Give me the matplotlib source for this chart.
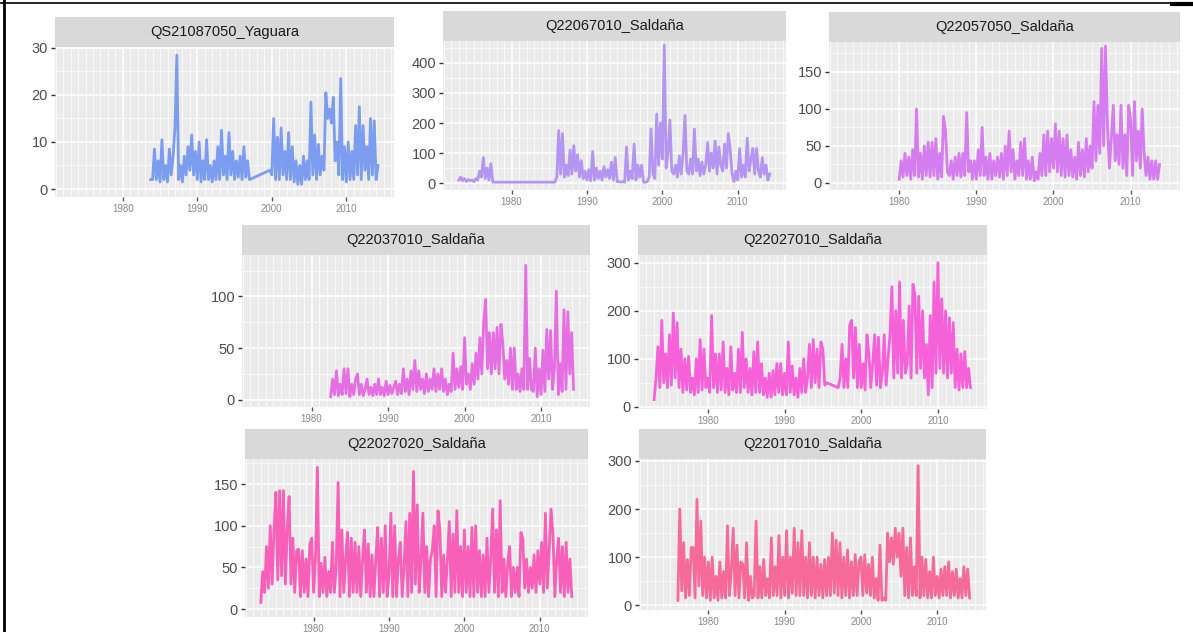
import numpy as np
import matplotlib.pyplot as plt
from matplotlib.lines import Line2D

plt.rcParams['font.family'] = ['Liberation Sans', 'DejaVu Sans']

W, H = 1193, 632

titles = ["QS21087050_Yaguara", "Q22067010_Saldaña", "Q22057050_Saldaña",
          "Q22037010_Saldaña", "Q22027010_Saldaña", "Q22027020_Saldaña",
          "Q22017010_Saldaña"]
colors = ["#7C9CF0", "#B495F2", "#D47CF0", "#E66EE3", "#F660D8", "#F75FB8", "#F56A98"]
x_ticks = [1980, 1990, 2000, 2010]
y_ticks = [[0, 10, 20, 30], [0, 100, 200, 300, 400], [0, 50, 100, 150],
           [0, 50, 100], [0, 100, 200, 300], [0, 50, 100, 150], [0, 100, 200, 300]]

# caudal, un valor cada trimestre: (anio inicial, valores)
q_yaguara = [
    (1983.75, [2,
               2, 8.5, 2, 6, 1.5, 10.5, 2, 5, 1.5, 8.5, 3, 7, 13, 28.5, 2, 5,
               1.5, 7, 3, 9, 4, 11.5, 3, 8, 2, 10, 1.5, 6, 2, 10.5, 2, 5,
               1.5, 6, 2, 9, 2, 12.5, 3, 7, 2, 12, 3, 8, 2, 6, 2.5, 7,
               2, 9, 2.5, 6, 2]),
    (1999.75, [4,
               3, 15, 2, 11, 2, 13, 3, 8, 2, 12, 2, 9, 1.5, 6, 1, 5,
               1, 7, 2, 6, 2, 18.5, 3, 11.5, 2, 9.5, 3, 7, 4, 20.5, 15, 17,
               14, 19.5, 6, 10, 3, 23.5, 2, 9, 1.5, 10, 2, 8, 2, 13.5, 3, 17.5,
               2, 13.5, 4, 9, 2, 15, 3, 14.5, 2, 5]),
]
q_22067010 = [
    (1973.0, [10, 20, 8, 15, 5, 12, 8, 10, 5, 15, 10, 40, 20, 85, 15, 50,
              10, 65, 3]),
    (1985.75, [3,
               20, 175, 30, 165, 20, 60, 25, 110, 30, 125, 40, 95, 20, 75, 15, 40,
               10, 45, 8, 105, 10, 50, 15, 40, 10, 55, 20, 45, 15, 70, 10, 85,
               5, 5, 3, 5, 3, 120, 10, 40, 15, 130, 10, 60, 20, 60, 3, 3,
               5, 20, 180, 30, 15, 230, 60, 200, 80, 460, 50, 100, 210, 40, 30, 60,
               20, 90, 30, 100, 225, 40, 30, 80, 30, 180, 40, 80, 25, 70, 30, 60,
               135, 40, 100, 50, 140, 30, 120, 60, 40, 130, 50, 165, 110, 30, 5, 40,
               10, 115, 20, 60, 20, 150, 40, 80, 115, 30, 115, 40, 20, 85, 30, 60,
               10, 30]),
]
q_22057050 = [
    (1980.0, [5, 30, 8, 40, 10, 35, 5, 45, 10, 100, 8, 40, 5, 50, 10, 55,
              8, 55, 10, 60, 5, 40, 8, 90, 70, 15, 10, 30, 5, 35, 10, 40,
              8, 40, 10, 95, 15, 30, 5, 30, 5, 45, 10, 75, 10, 35, 5, 40,
              5, 30, 10, 35, 8, 40, 5, 50, 10, 70, 15, 45, 5, 30, 10, 55,
              10, 60, 5, 30, 5, 35, 3, 15, 5, 40, 10, 65, 10, 70, 15, 60,
              20, 80, 15, 70, 10, 60, 8, 65, 10, 45, 8, 35, 5, 55, 10, 45,
              8, 60, 15, 50, 20, 110, 30, 105, 40, 182, 50, 185, 75, 20, 60, 105,
              30, 65, 25, 105, 20, 65, 10, 105, 85, 10, 110, 30, 70, 20, 100, 40,
              10, 35, 5, 30, 5, 30, 5, 25]),
]
q_22037010 = [
    (1982.5, [3, 20,
              5, 28, 4, 15, 5, 30, 6, 30, 3, 15, 5, 20, 25, 5, 15, 4,
              10, 20, 5, 12, 4, 15, 5, 20, 5, 12, 4, 18, 5, 14, 6, 12,
              18, 5, 15, 6, 30, 8, 20, 5, 28, 10, 38, 8, 28, 10, 20, 6,
              25, 8, 20, 10, 30, 8, 25, 10, 30, 8, 20, 5, 15, 8, 45, 10,
              30, 12, 32, 10, 60, 15, 25, 10, 35, 15, 45, 20, 60, 25, 75, 97,
              30, 65, 25, 65, 30, 70, 25, 73, 55, 20, 38, 15, 50, 10, 50, 10,
              25, 8, 30, 10, 130, 10, 40, 10, 8, 50, 3, 30, 5, 48, 8, 68,
              20, 67, 10, 30, 105, 5, 35, 8, 87, 10, 85, 25, 65, 10]),
]
q_22027010 = [
    (1973.0, [15, 60, 125, 40, 180, 50, 110, 40, 150, 45, 195, 60, 175, 40, 120, 30,
              100, 35, 105, 30, 60, 25, 100, 30, 140, 35, 120, 40, 60, 30, 190, 40,
              110, 30, 110, 35, 135, 30, 80, 25, 125, 35, 70, 30, 120, 30, 155, 40,
              100, 30, 80, 25, 115, 30, 135, 30, 90, 25, 60, 20, 70, 20, 75, 25,
              90, 30, 90, 25, 70, 25, 135, 30, 85, 25, 60, 20, 80, 30, 100, 30,
              60, 130, 40, 140, 50, 120, 40, 135, 120, 45, 50]),
    (1997.0, [40, 60, 130, 40, 100, 40, 170, 180, 60, 165, 40, 130, 40, 90, 35, 150,
              110, 40, 90, 150, 45, 145, 40, 70, 150, 45, 100, 150, 250, 60, 200, 70,
              260, 60, 180, 70, 90, 210, 60, 255, 235, 70, 230, 80, 200, 60, 130, 25,
              190, 40, 260, 70, 300, 80, 225, 70, 200, 60, 185, 70, 175, 40, 120, 35,
              110, 40, 115, 40, 80, 40]),
]
q_22027020 = [
    (1973.0, [8, 45, 20, 75, 25, 100, 30, 95, 140, 35, 142, 40, 142, 30, 95, 135,
              30, 85, 20, 70, 72, 15, 70, 20, 60, 15, 78, 85, 20, 60, 170, 15,
              55, 20, 62, 15, 45, 20, 80, 20, 50, 152, 15, 95, 20, 60, 92, 15,
              85, 20, 80, 20, 75, 15, 60, 95, 20, 78, 15, 65, 15, 60, 98, 15,
              85, 20, 100, 15, 40, 115, 15, 100, 15, 60, 80, 15, 50, 105, 15, 115,
              20, 165, 30, 125, 20, 60, 115, 20, 75, 15, 60, 70, 100, 15, 118, 95,
              15, 65, 20, 60, 105, 15, 90, 20, 118, 20, 75, 15, 95, 20, 75, 15,
              98, 15, 100, 20, 70, 15, 65, 15, 85, 20, 60, 120, 20, 95, 15, 130,
              20, 60, 15, 55, 75, 15, 50, 20, 50, 15, 92, 85, 25, 60, 20, 50,
              25, 65, 20, 70, 30, 80, 20, 115, 25, 70, 120, 90, 15, 60, 85, 20,
              75, 15, 80, 20, 60, 15]),
]
q_22017010 = [
    (1976.0, [10, 200, 30, 130, 15, 95, 20, 120, 120, 15, 220, 40, 175, 20, 100, 15,
              90, 10, 100, 15, 60, 10, 90, 15, 70, 15, 165, 20, 70, 160, 20, 125,
              15, 90, 85, 15, 130, 10, 60, 15, 20, 175, 15, 80, 15, 95, 20, 55,
              15, 140, 20, 80, 20, 145, 15, 100, 20, 155, 15, 100, 25, 160, 20, 130,
              20, 155, 20, 100, 15, 130, 20, 100, 15, 100, 20, 85, 15, 95, 20, 100,
              20, 150, 25, 135, 20, 130, 15, 100, 20, 115, 15, 90, 20, 105, 20, 90,
              100, 20, 105, 25, 85, 20, 100, 15, 55, 10, 125, 10, 15, 10, 150, 90,
              140, 85, 160, 100, 150, 60, 160, 20, 120, 15, 140, 20, 80, 20, 290, 15,
              100, 20, 95, 15, 70, 15, 100, 20, 60, 15, 75, 20, 80, 20, 90, 15,
              70, 20, 75, 15, 55, 15, 80, 20, 75, 15]),
]
series = [q_yaguara, q_22067010, q_22057050, q_22037010, q_22027010, q_22027020, q_22017010]

# cajas de los paneles en pixeles: izq, arriba, der, abajo (franja aparte)
boxes = [(55, 47, 394, 197), (443, 41, 786, 190), (829, 42, 1180, 190),
         (242, 255, 590, 407), (638, 255, 987, 409),
         (245, 459, 588, 617), (639, 459, 986, 610)]
ylims = [(-1.7, 30.2), (-23, 473), (-9.5, 190.5), (-7, 140), (-4.5, 316),
         (-9.5, 180), (-10, 304)]
strip_h = 30


def frac(l, t, r, b):
    return [l / W, 1 - b / H, (r - l) / W, (b - t) / H]


def quarters(segs):
    xs, ys = [], []
    for start, vals in segs:
        xs.extend(start + 0.25 * np.arange(len(vals)))
        ys.extend(vals)
    return np.array(xs), np.array(ys)


fig = plt.figure(figsize=(W / 100, H / 100), dpi=100)
fig.patch.set_facecolor("white")

for i, (l, t, r, b) in enumerate(boxes):
    ax = fig.add_axes(frac(l, t, r, b))
    ax.set_facecolor("#EBEBEB")
    x, y = quarters(series[i])
    ax.plot(x, y, color=colors[i], lw=2.0, solid_joinstyle="round", zorder=3)
    ax.set_xticks(x_ticks)
    ax.set_xticks(np.arange(1971, 2017), minor=True)
    yt = y_ticks[i]
    ax.set_yticks(yt)
    step = yt[1] - yt[0]
    ax.set_yticks(np.arange(yt[0] - step / 2, yt[-1] + step, step), minor=True)
    # limites despues de los ticks, si no set_yticks los agranda
    ax.set_xlim(1970.9, 2016.4)
    ax.set_ylim(*ylims[i])
    ax.grid(which="major", color="white", lw=1.1, zorder=0)
    ax.grid(which="minor", color="white", lw=0.5, zorder=0)
    ax.set_axisbelow(True)
    for s in ax.spines.values():
        s.set_visible(False)
    ax.tick_params(axis="y", which="major", labelsize=10.5, labelcolor="#4D4D4D",
                   color="#333333", length=3, width=1, pad=2)
    ax.tick_params(axis="x", which="major", labelsize=7, labelcolor="#8A8A8A",
                   color="#555555", length=3, width=1, pad=2)
    ax.tick_params(which="minor", length=0)

    sa = fig.add_axes(frac(l, t - strip_h, r, t))
    sa.set_facecolor("#D9D9D9")
    sa.set_xticks([])
    sa.set_yticks([])
    for s in sa.spines.values():
        s.set_visible(False)
    sa.text(0.5, 0.5, titles[i], ha="center", va="center", fontsize=10.5,
            color="#1A1A1A", transform=sa.transAxes)

# marco negro de la captura
fig.add_artist(Line2D([4 / W, 4 / W], [0, 1], color="black", lw=2))
fig.add_artist(Line2D([0, 1175 / W], [1 - 3 / H, 1 - 3 / H], color="black", lw=1.2))
fig.add_artist(Line2D([1172 / W, 1], [1 - 4 / H, 1 - 4 / H], color="black", lw=3))

fig.savefig("out.png", dpi=100)
